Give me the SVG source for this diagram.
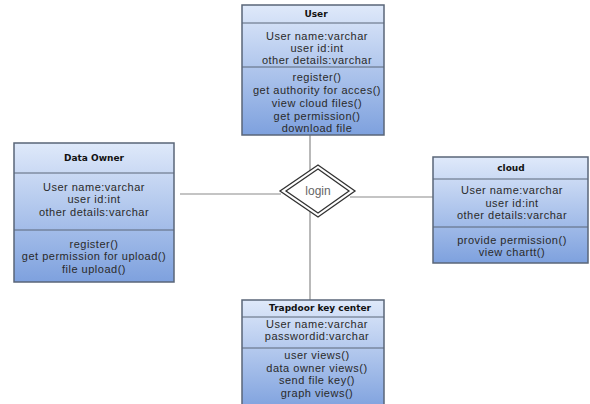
<svg xmlns="http://www.w3.org/2000/svg" width="590" height="404" viewBox="0 0 590 404">
<defs>
<linearGradient id="g" x1="0" y1="0" x2="0" y2="1">
<stop offset="0" stop-color="#dfe9fa"/>
<stop offset="1" stop-color="#7ea1de"/>
</linearGradient>
</defs>
<style>
.box{fill:url(#g);stroke:#5a6678;stroke-width:1.5}
.div{stroke:#5a6678;stroke-width:1}
.t{font-family:"Liberation Sans",Arial,sans-serif;font-size:11px;letter-spacing:0.5px;fill:#2a2a2a;text-anchor:middle}
.h{font-family:"DejaVu Sans",Verdana,sans-serif;font-size:9px;font-weight:bold;fill:#111;text-anchor:middle}
.c{stroke:#8a8a8a;stroke-width:1.2;fill:none}
.lg{font-family:"Liberation Sans",Arial,sans-serif;font-size:12px;fill:#666;text-anchor:middle}
</style>
<rect width="590" height="404" fill="#fff"/>
<g id="connectors">
<line class="c" x1="310" y1="135" x2="310" y2="176"/>
<line class="c" x1="310" y1="208" x2="310" y2="300"/>
<line class="c" x1="180" y1="194" x2="281" y2="194"/>
<line class="c" x1="350" y1="197" x2="433" y2="197"/>
</g>
<g id="login">
<polygon points="318,165 355,191 318,217 280,191" fill="#fff" stroke="#333" stroke-width="1.3"/>
<polygon points="318,169 349,191 318,213 286,191" fill="#fff" stroke="#333" stroke-width="1.3"/>
<text class="lg" x="318" y="195">login</text>
</g>
<g id="user">
<rect class="box" x="242" y="5" width="142" height="130"/>
<line class="div" x1="242" y1="23" x2="384" y2="23"/>
<line class="div" x1="242" y1="67" x2="384" y2="67"/>
<text class="h" x="316" y="17">User</text>
<text class="t" x="317" y="40">User name:varchar</text>
<text class="t" x="317" y="52">user id:int</text>
<text class="t" x="317" y="64">other details:varchar</text>
<text class="t" x="317" y="81">register()</text>
<text class="t" x="317" y="94">get authority for acces()</text>
<text class="t" x="317" y="107">view cloud files()</text>
<text class="t" x="317" y="120">get permission()</text>
<text class="t" x="317" y="132">download file</text>
</g>
<g id="data-owner">
<rect class="box" x="14" y="143" width="160" height="139"/>
<line class="div" x1="14" y1="173" x2="174" y2="173"/>
<line class="div" x1="14" y1="230" x2="174" y2="230"/>
<text class="h" x="94" y="161">Data Owner</text>
<text class="t" x="94" y="191">User name:varchar</text>
<text class="t" x="94" y="203">user id:int</text>
<text class="t" x="94" y="216">other details:varchar</text>
<text class="t" x="94" y="248">register()</text>
<text class="t" x="94" y="260">get permission for upload()</text>
<text class="t" x="94" y="273">file upload()</text>
</g>
<g id="cloud">
<rect class="box" x="433" y="157" width="155" height="106"/>
<line class="div" x1="433" y1="179" x2="588" y2="179"/>
<line class="div" x1="433" y1="227" x2="588" y2="227"/>
<text class="h" x="511" y="171">cloud</text>
<text class="t" x="512" y="194">User name:varchar</text>
<text class="t" x="512" y="207">user id:int</text>
<text class="t" x="512" y="219">other details:varchar</text>
<text class="t" x="512" y="244">provide permission()</text>
<text class="t" x="512" y="256">view chartt()</text>
</g>
<g id="trapdoor">
<rect class="box" x="242" y="300" width="142" height="110"/>
<line class="div" x1="242" y1="317" x2="384" y2="317"/>
<line class="div" x1="242" y1="348" x2="384" y2="348"/>
<text class="h" x="320" y="311">Trapdoor key center</text>
<text class="t" x="317" y="328">User name:varchar</text>
<text class="t" x="317" y="340">passwordid:varchar</text>
<text class="t" x="317" y="359">user views()</text>
<text class="t" x="317" y="372">data owner views()</text>
<text class="t" x="317" y="384">send file key()</text>
<text class="t" x="317" y="397">graph views()</text>
</g>
</svg>
